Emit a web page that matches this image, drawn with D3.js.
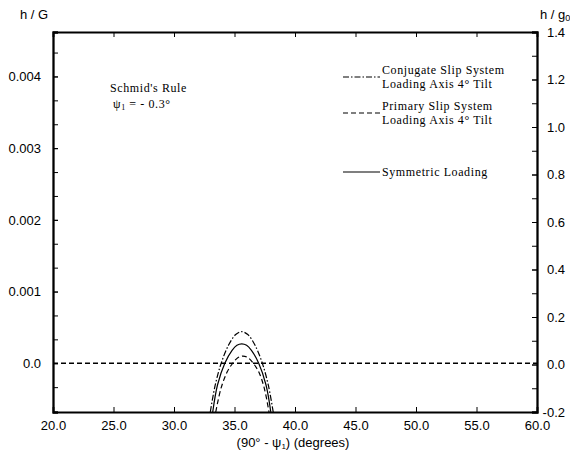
<!DOCTYPE html>
<html>
<head>
<meta charset="utf-8">
<script src="https://cdn.jsdelivr.net/npm/d3@7"></script>
<style>
  body { margin: 0; background: #fff; }
  .num { font-family: "Liberation Sans", Arial, sans-serif; font-size: 13px; }
  .serif { font-family: "Liberation Serif", "Times New Roman", serif; font-size: 12px; letter-spacing: 0.6px; }
</style>
</head>
<body>
<svg width="570" height="456"></svg>
<script>
// x: (90° - psi1) in degrees, y: h / G
const xTicks = [20, 25, 30, 35, 40, 45, 50, 55, 60];
const leftTicks = [0, 0.001, 0.002, 0.003, 0.004];
const leftTickLabels = ["0.0", "0.001", "0.002", "0.003", "0.004"];
const rightTicks = [-0.2, 0, 0.2, 0.4, 0.6, 0.8, 1.0, 1.2, 1.4];

// Conjugate slip system, loading axis 4° tilt (dash-dot)
const conjugate = [
  [33.0, -0.00068], [33.4, -0.00031], [33.9, 0.0], [34.5, 0.00025], [35.1, 0.0004],
  [35.6, 0.00044], [36.1, 0.0004], [36.7, 0.00025], [37.3, 0.0], [37.8, -0.00031], [38.2, -0.00068]
];
// Symmetric loading (solid)
const symmetric = [
  [33.2, -0.00068], [33.6, -0.0003], [34.2, 0.0], [34.8, 0.00018], [35.2, 0.00025],
  [35.6, 0.00027], [36.0, 0.00025], [36.4, 0.00018], [37.0, 0.0], [37.6, -0.0003], [38.0, -0.00068]
];
// Primary slip system, loading axis 4° tilt (dashed)
const primary = [
  [33.45, -0.00068], [33.9, -0.00034], [34.4, -0.00012], [34.85, 0.0], [35.3, 0.00008],
  [35.7, 0.0001], [36.1, 0.00008], [36.55, 0.0], [37.0, -0.00012], [37.45, -0.00034], [37.85, -0.00068]
];

const svg = d3.select('svg');
const L = 53, R = 537, T = 32, B = 412;

const x = d3.scaleLinear().domain([20, 60]).range([L, R]);
const y = d3.scaleLinear().domain([-0.00068, 0.00462]).range([B, T]);
const y2 = d3.scaleLinear().domain([-0.2, 1.4]).range([B, T]);

svg.append('clipPath').attr('id', 'plot')
  .append('rect').attr('x', L).attr('y', T).attr('width', R - L).attr('height', B - T);

// zero line
svg.append('line')
  .attr('x1', L).attr('x2', R).attr('y1', y(0)).attr('y2', y(0))
  .attr('stroke', '#000').attr('stroke-width', 1.6).attr('stroke-dasharray', '5,3');

const line = d3.line().x(d => x(d[0])).y(d => y(d[1])).curve(d3.curveCatmullRom);

const series = [
  { data: conjugate, dash: '6,2,1.5,2' },
  { data: symmetric, dash: null },
  { data: primary, dash: '5,3' }
];
svg.append('g').attr('clip-path', 'url(#plot)')
  .selectAll('path').data(series).enter().append('path')
    .attr('d', d => line(d.data))
    .attr('fill', 'none')
    .attr('stroke', '#000')
    .attr('stroke-width', 1.2)
    .attr('stroke-dasharray', d => d.dash);

// axes, ticks pointing inward
const fmt1 = d => d.toFixed(1);
svg.append('g').attr('class', 'num').attr('transform', `translate(0,${B})`)
  .call(d3.axisBottom(x).tickValues(xTicks).tickSize(-5).tickPadding(9).tickFormat(fmt1));
svg.append('g').attr('transform', `translate(0,${T})`)
  .call(d3.axisTop(x).tickValues(xTicks).tickSize(-5).tickFormat(''));

svg.append('g').attr('class', 'num').attr('transform', `translate(${L},0)`)
  .call(d3.axisLeft(y).tickValues(leftTicks).tickSize(-5).tickPadding(12)
    .tickFormat((d, i) => leftTickLabels[i]));
svg.append('g').attr('transform', `translate(${L},0)`)
  .call(d3.axisLeft(y).tickValues(d3.range(-1, 14).map(k => k / 3000)).tickSize(-5).tickFormat(''));

svg.append('g').attr('class', 'num right').attr('transform', `translate(${R},0)`)
  .call(d3.axisRight(y2).tickValues(rightTicks).tickSize(-5).tickPadding(28).tickFormat(fmt1));
svg.append('g').attr('transform', `translate(${R},0)`)
  .call(d3.axisRight(y2).tickValues(d3.range(-1, 14).map(k => k / 10)).tickSize(-5).tickFormat(''));

svg.selectAll('.domain').attr('stroke-width', 1.8);
svg.selectAll('.tick line').attr('stroke-width', 1);
svg.selectAll('.num text').attr('font-size', 13).attr('font-family', null);
svg.selectAll('.right .tick text').attr('text-anchor', 'end');

// axis titles
svg.append('text').attr('class', 'num').attr('x', 20).attr('y', 19).text('h / G');
const t2 = svg.append('text').attr('class', 'num').attr('x', 540).attr('y', 19).text('h / g');
t2.append('tspan').attr('font-size', 9).attr('baseline-shift', '-25%').text('0');

const xl = svg.append('text').attr('class', 'num').attr('x', 293).attr('y', 447)
  .attr('text-anchor', 'middle').text('(90° - ψ');
xl.append('tspan').attr('font-size', 8).attr('baseline-shift', '-30%').text('1');
xl.append('tspan').text(') (degrees)');

// annotation
svg.append('text').attr('class', 'serif').attr('x', 110).attr('y', 92).text("Schmid's Rule");
const ps = svg.append('text').attr('class', 'serif').attr('x', 113).attr('y', 108).text('ψ');
ps.append('tspan').attr('font-size', 8).attr('baseline-shift', '-30%').text('1');
ps.append('tspan').text(' = - 0.3°');

// legend
const legend = [
  { dash: '6,2,1.5,2', ly: 77, lines: ['Conjugate Slip System', 'Loading Axis 4° Tilt'], y0: 74 },
  { dash: '5,3', ly: 113, lines: ['Primary Slip System', 'Loading Axis 4° Tilt'], y0: 110 },
  { dash: null, ly: 172, lines: ['Symmetric Loading'], y0: 176 }
];
legend.forEach(d => {
  svg.append('line').attr('x1', 343).attr('x2', 380).attr('y1', d.ly).attr('y2', d.ly)
    .attr('stroke', '#000').attr('stroke-width', 1.2).attr('stroke-dasharray', d.dash);
  d.lines.forEach((s, i) => {
    svg.append('text').attr('class', 'serif').attr('x', 382).attr('y', d.y0 + i * 13.5).text(s);
  });
});
</script>
</body>
</html>
